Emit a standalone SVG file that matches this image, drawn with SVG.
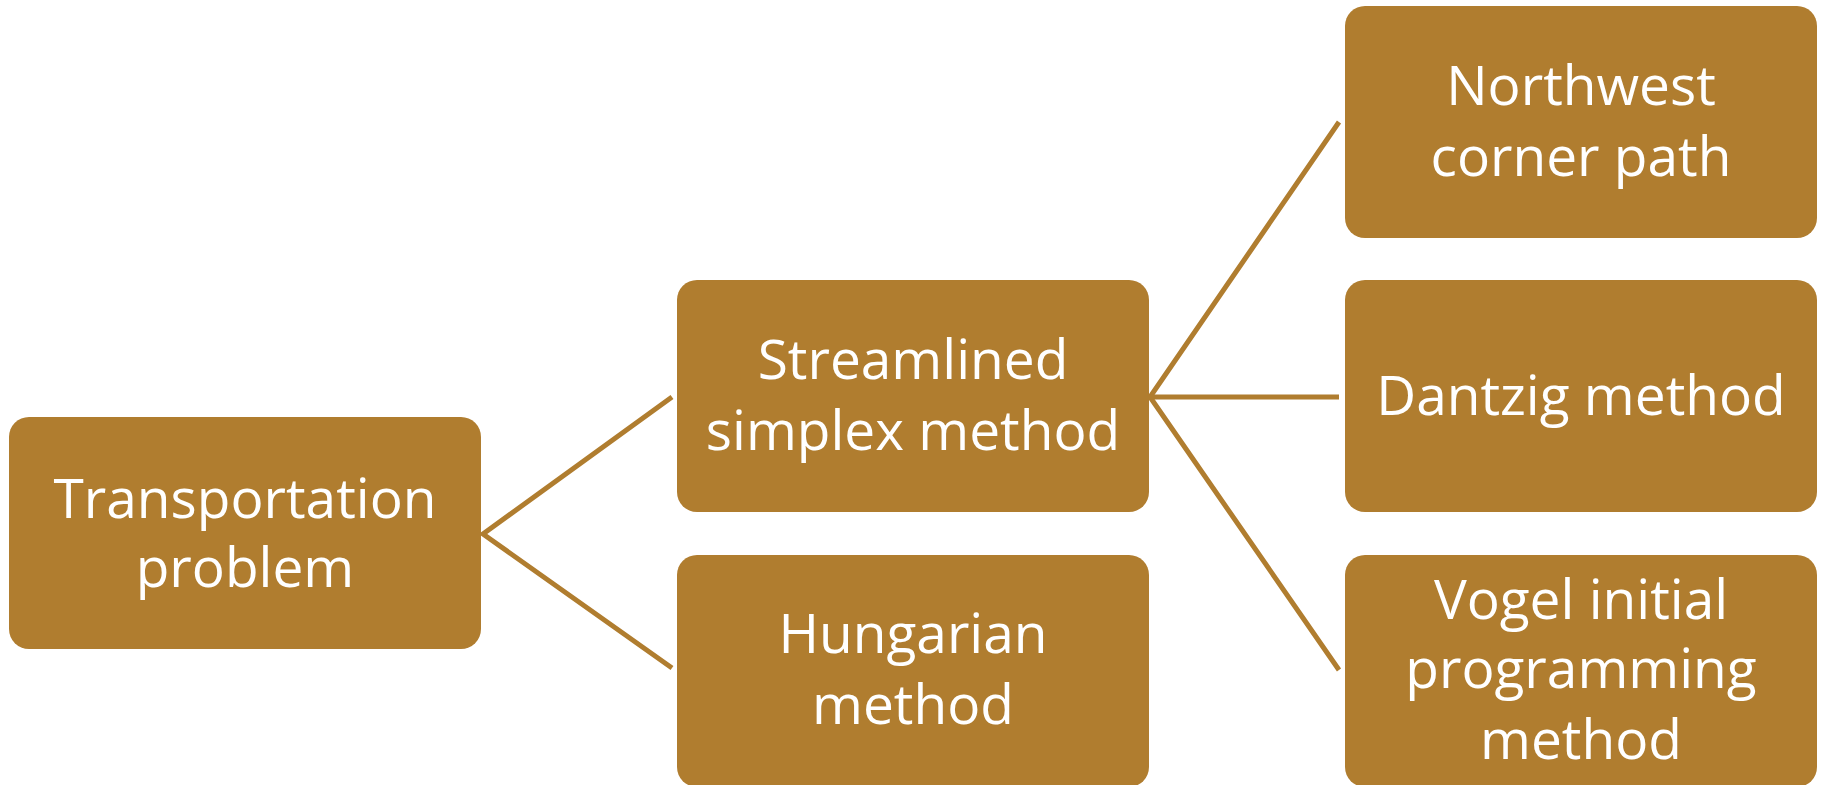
<svg xmlns="http://www.w3.org/2000/svg" width="1825" height="785" viewBox="0 0 1825 785">
  <style>
    .box { fill: #B07D2F; }
    .label { font-family: "Open Sans", "Noto Sans", "Liberation Sans", sans-serif; font-size: 55px; fill: #FFFFFF; text-anchor: middle; }
    .link { stroke: #B07D2F; stroke-width: 5; fill: none; }
  </style>
  <rect width="1825" height="785" fill="#FFFFFF"/>

  <!-- tree connectors -->
  <g id="connectors">
    <polyline class="link" points="672,397 483,534 672,668"/>
    <polyline class="link" points="1339,122 1150,397 1339,670"/>
    <line class="link" x1="1150" y1="397" x2="1339" y2="397"/>
  </g>

  <g id="transportation-problem">
    <rect class="box" x="9" y="417" width="472" height="232" rx="20"/>
    <text class="label" x="245" y="518">Transportation</text>
    <text class="label" x="245" y="587">problem</text>
  </g>

  <g id="streamlined-simplex">
    <rect class="box" x="677" y="280" width="472" height="232" rx="20"/>
    <text class="label" x="913" y="379">Streamlined</text>
    <text class="label" x="913" y="450">simplex method</text>
  </g>

  <g id="hungarian">
    <rect class="box" x="677" y="555" width="472" height="232" rx="20"/>
    <text class="label" x="913" y="653">Hungarian</text>
    <text class="label" x="913" y="724">method</text>
  </g>

  <g id="northwest-corner">
    <rect class="box" x="1345" y="6" width="472" height="232" rx="20"/>
    <text class="label" x="1581" y="105">Northwest</text>
    <text class="label" x="1581" y="176">corner path</text>
  </g>

  <g id="dantzig">
    <rect class="box" x="1345" y="280" width="472" height="232" rx="20"/>
    <text class="label" x="1581" y="415">Dantzig method</text>
  </g>

  <g id="vogel">
    <rect class="box" x="1345" y="555" width="472" height="232" rx="20"/>
    <text class="label" x="1581" y="619">Vogel initial</text>
    <text class="label" x="1581" y="688">programming</text>
    <text class="label" x="1581" y="759">method</text>
  </g>
</svg>
